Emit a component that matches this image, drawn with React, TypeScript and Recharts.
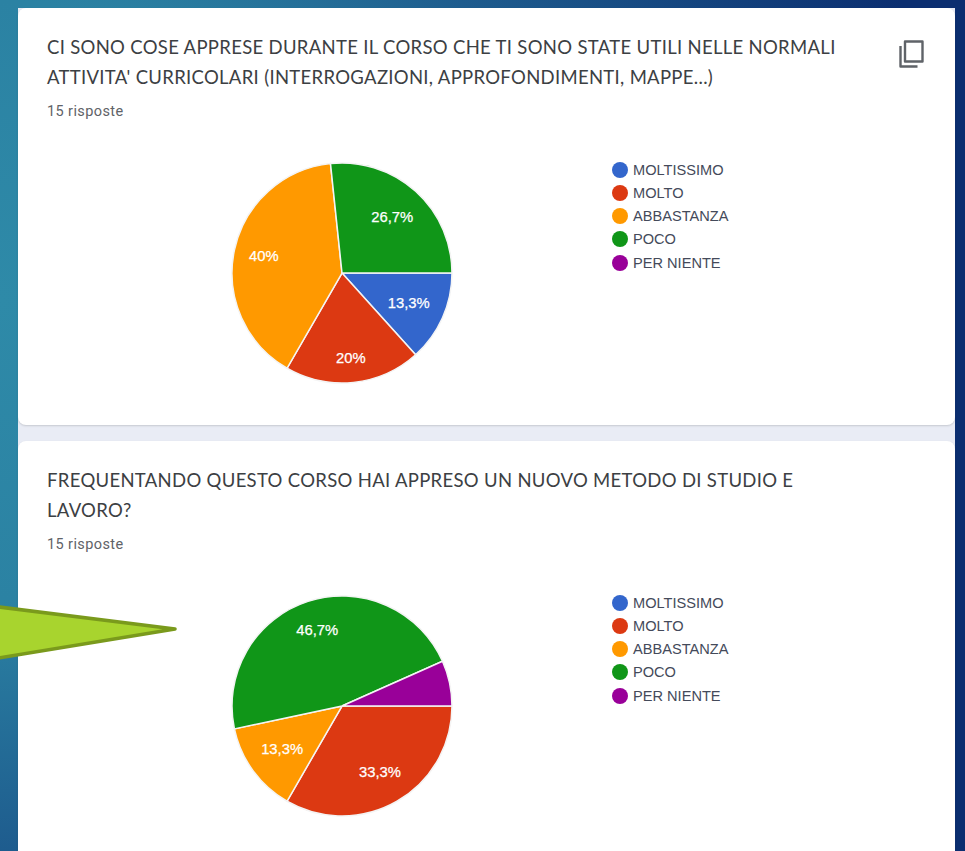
import { PieChart, Pie, Cell, Legend } from "recharts";

const ANSWERS = ["MOLTISSIMO", "MOLTO", "ABBASTANZA", "POCO", "PER NIENTE"];
const COLOURS = ["#3366cc", "#dc3912", "#ff9900", "#109618", "#990099"];
const COUNTS_UTILI = [2, 3, 6, 4, 0];
const COUNTS_METODO = [0, 5, 2, 7, 1];

const TITLE_UTILI = [
  "CI SONO COSE APPRESE DURANTE IL CORSO CHE TI SONO STATE UTILI NELLE NORMALI",
  "ATTIVITA' CURRICOLARI (INTERROGAZIONI, APPROFONDIMENTI, MAPPE...)",
];
const TITLE_METODO = [
  "FREQUENTANDO QUESTO CORSO HAI APPRESO UN NUOVO METODO DI STUDIO E",
  "LAVORO?",
];
const RESPONSES = "15 risposte";

const RADIAN = Math.PI / 180;

// google pushes each label out a bit differently, so the distance is per slice
const makeLabel = (radii: number[]) =>
  function percentLabel({ cx, cy, midAngle, percent, index }: any) {
    // small slices get no label
    if (percent < 0.1) return null;
    const r = radii[index];
    const x = cx + r * Math.cos(-midAngle * RADIAN);
    const y = cy + r * Math.sin(-midAngle * RADIAN);
    const txt = (percent * 100).toFixed(1).replace(".", ",").replace(",0", "") + "%";
    return (
      <text
        x={x}
        y={y}
        fill="#fff"
        textAnchor="middle"
        dominantBaseline="central"
        style={{ fontFamily: "Liberation Sans", fontSize: 14.8, fontWeight: 400, stroke: "#fff", strokeWidth: 0.25 }}
      >
        {txt}
      </text>
    );
  };

function LegendList({ payload }: any) {
  return (
    <div>
      {(payload ?? []).map((p: any) => (
        <div key={p.value} style={{ display: "flex", alignItems: "center", height: 23.25 }}>
          <span
            style={{ width: 16, height: 16, borderRadius: 8, background: p.color, marginRight: 5 }}
          />
          <span style={{ fontFamily: "Liberation Sans", fontSize: 14.6, color: "#444a5a" }}>{p.value}</span>
        </div>
      ))}
    </div>
  );
}

function AnswerPie({ counts, top, radii }: { counts: number[]; top: number; radii: number[] }) {
  const data = ANSWERS.map((name, i) => ({ name, value: counts[i] }));
  return (
    <div style={{ position: "absolute", left: 150, top }}>
      <PieChart width={700} height={260} margin={{ top: 0, right: 0, bottom: 0, left: 0 }}>
        <Pie
          data={data}
          dataKey="value"
          nameKey="name"
          cx={192}
          cy={130}
          outerRadius={110}
          startAngle={0}
          endAngle={-360}
          stroke="#f4f4f4"
          strokeWidth={1.5}
          label={makeLabel(radii)}
          labelLine={false}
          isAnimationActive={false}
        >
          {data.map((d, i) => (
            <Cell key={d.name} fill={COLOURS[i]} />
          ))}
        </Pie>
        <Legend
          content={<LegendList />}
          itemSorter={null}
          wrapperStyle={{ left: 462, top: 15, width: 200, bottom: "auto" }}
        />
      </PieChart>
    </div>
  );
}

function Card({ top, height, title }: { top: number; height: number; title: string[] }) {
  return (
    <div
      style={{
        position: "absolute",
        left: 18,
        top,
        width: 937,
        height,
        background: "#fff",
        borderRadius: 8,
        boxShadow: "0 1px 2px rgba(60,64,67,0.2)",
      }}
    >
      <div
        style={{
          position: "absolute",
          left: 29,
          top: 24,
          fontFamily: "Lato",
          fontSize: 18.5,
          letterSpacing: 0.31,
          lineHeight: "30px",
          color: "#3c4043",
          whiteSpace: "nowrap",
        }}
      >
        {title.map((t) => (
          <div key={t}>{t}</div>
        ))}
      </div>
      <div
        style={{
          position: "absolute",
          left: 29,
          top: 94,
          fontFamily: "Roboto",
          fontSize: 14.5,
          letterSpacing: 0.4,
          lineHeight: "20px",
          color: "#5f6368",
        }}
      >
        {RESPONSES}
      </div>
    </div>
  );
}

export default function App() {
  return (
    <div
      style={{
        position: "fixed",
        left: 0,
        top: 0,
        width: 965,
        height: 851,
        overflow: "hidden",
        background:
          "radial-gradient(circle at 0px 300px, #2e8aa8 0px, #2b82a3 300px, #1e5c8e 550px, #0b2e70 950px)",
      }}
    >
      <div
        style={{ position: "absolute", left: 18, top: 8, width: 937, height: 843, background: "#e9ecf5" }}
      />
      <Card top={8} height={417} title={TITLE_UTILI} />
      <Card top={441} height={430} title={TITLE_METODO} />

      {/* copy icon */}
      <svg style={{ position: "absolute", left: 899, top: 40 }} width={26} height={28} viewBox="0 0 26 28">
        <path
          d="M6 1.5h17.5v20H6z M1.5 6v20.5h17"
          fill="none"
          stroke="#5f6368"
          strokeWidth={2.4}
          strokeLinejoin="round"
        />
      </svg>

      <AnswerPie counts={COUNTS_UTILI} top={143} radii={[73, 85, 80, 75, 0]} />
      <AnswerPie counts={COUNTS_METODO} top={576} radii={[0, 76, 74, 80, 0]} />

      {/* callout arrow from the slide */}
      <svg style={{ position: "absolute", left: 0, top: 595 }} width={185} height={75}>
        <polygon
          points="-5,11.5 175,34 -5,63.5"
          fill="#a8d42e"
          stroke="#7a9a1c"
          strokeWidth={3.5}
          strokeLinejoin="round"
        />
      </svg>
    </div>
  );
}
